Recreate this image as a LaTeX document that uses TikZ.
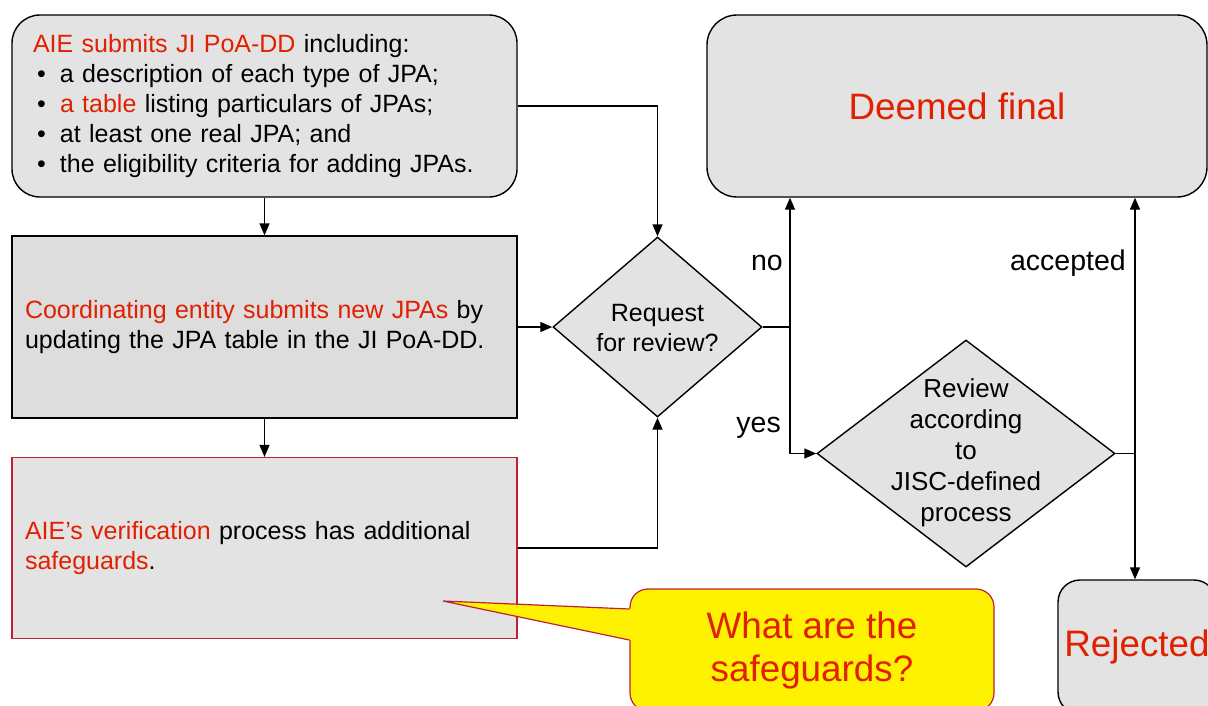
\documentclass[tikz,border=0pt]{standalone}
\usepackage{fontspec}
\setmainfont{Liberation Sans}
\usetikzlibrary{shapes.geometric,arrows.meta}
\definecolor{tred}{RGB}{224,32,0}
\definecolor{bred}{RGB}{192,32,52}
\definecolor{boxgray}{RGB}{227,227,227}
\definecolor{boxgrayd}{RGB}{221,221,221}
\newcommand\bul{\makebox[27pt][l]{\hspace{4pt}\textbullet}}
\begin{document}
\begin{tikzpicture}[x=1pt,y=-1pt,
  every node/.style={font=\fontsize{25}{30}\selectfont},
  big/.style={font=\fontsize{36.8}{43}\selectfont},
  box/.style={draw=black, line width=1.4pt, fill=boxgray, minimum width=505pt, minimum height=182pt, inner ysep=0pt, anchor=center, align=left},
  dia/.style={diamond, draw=black, line width=1.4pt, fill=boxgray, inner sep=0pt},
  dtext/.style={inner sep=0pt, align=center},
  lbl/.style={inner sep=0pt, anchor=east, font=\fontsize{28.5}{30}\selectfont},
  arr/.style={line width=1.4pt, -{Triangle[width=10pt,length=12pt]}},
  conn/.style={line width=1.4pt}
]
\useasboundingbox (0,0) rectangle (1208,705);
\clip (0,0) rectangle (1208,705);

% left boxes
\node[box, rounded corners=28pt, inner xsep=21pt, text width=463pt] (b1) at (264.5,106)
 {\textcolor{tred}{AIE submits JI PoA-DD} including:\\
  \bul a description of each type of JPA;\\
  \bul \textcolor{tred}{a table} listing particulars of JPAs;\\
  \bul at least one real JPA; and\\
  \bul the eligibility criteria for adding JPAs.};
\node[box, fill=boxgrayd, inner xsep=13pt, text width=479pt] (b2) at (264.5,327)
 {\textcolor{tred}{Coordinating entity submits new JPAs} by\\
  updating the JPA table in the JI PoA-DD.};
\node[box, draw=bred, line width=1.2pt, inner xsep=13pt, text width=479pt, minimum height=181pt] (b3) at (264.5,548)
 {\textcolor{tred}{AIE’s verification} process has additional\\
  \textcolor{tred}{safeguards}.};

% diamonds
\node[dia, minimum width=209pt, minimum height=180pt] (d1) at (657.5,327) {};
\node[dtext] (d1t) at (657.5,328) {Request\\for review?};
\node[dia, minimum width=298pt, minimum height=227pt] (d2) at (966,453.5) {};
\node[dtext, font=\fontsize{26}{31}\selectfont] (d2t) at (966,453) {Review\\according\\to\\JISC-defined\\process};

% right boxes
\node[box, rounded corners=30pt, minimum width=500pt, text=tred, big] (df) at (957,106) {\raisebox{-2pt}{Deemed final}};
\node[box, rounded corners=22pt, minimum width=158pt, minimum height=134pt, text=tred, big, inner xsep=0pt] (rej) at (1137,647) {\raisebox{-3pt}{Rejected}};

% junctions
\coordinate (j1) at (790,327);
\coordinate (j2) at (1135,453.5);

% connectors
\draw[arr] (b1.south) -- (b2.north);
\draw[arr] (b2.south) -- (b3.north);
\draw[arr] (b1.east) -| (d1.north);
\draw[arr] (b2.east) -- (d1.west);
\draw[arr] (b3.east) -| (d1.south);
\draw[conn] (d1.east) -- (j1);
\draw[arr] (j1) -- (j1 |- df.south);
\draw[arr] (j1) |- (d2.west);
\draw[conn] (d2.east) -- (j2);
\draw[arr] (j2) -- (j2 |- df.south);
\draw[arr] (j2) -- (j2 |- rej.north);

% labels
\node[lbl] (lno) at (783,263) {no};
\node[lbl] (lyes) at (781,428) {yes};
\node[lbl] (lacc) at (1126,263) {accepted};

% callout
\node[draw=bred, line width=1.2pt, fill=yellow, rounded corners=18pt, minimum width=364pt, minimum height=122pt, text=tred, big, align=center, inner sep=0pt] (q) at (812,650) {What are the\\safeguards?};
\coordinate (tip) at (443,601);
\fill[yellow] ([yshift=41pt,xshift=2pt]q.west) -- (tip) -- ([yshift=10pt,xshift=2pt]q.west) -- cycle;
\draw[bred, line width=1.2pt] ([yshift=41pt]q.west) -- (tip) -- ([yshift=10pt]q.west);
\end{tikzpicture}
\end{document}
